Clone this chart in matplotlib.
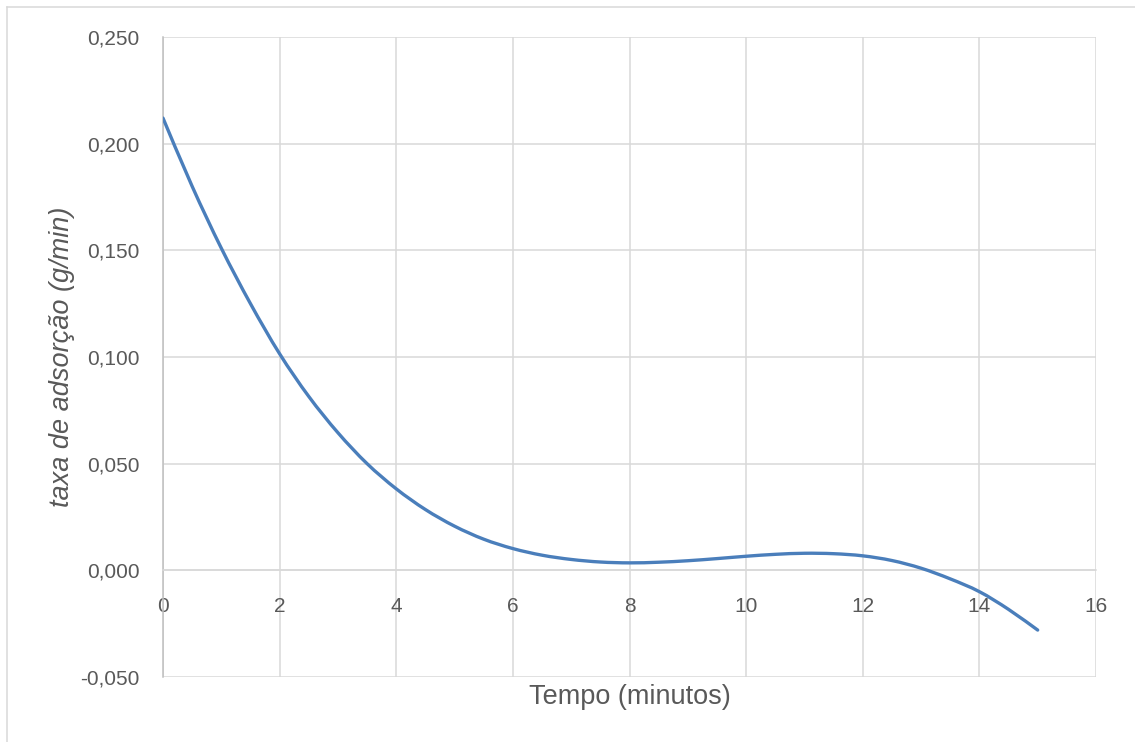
import matplotlib
matplotlib.use("Agg")
import matplotlib.pyplot as plt
from matplotlib.lines import Line2D
from matplotlib.path import Path
from matplotlib.patches import PathPatch

# Data
tempo = [0, 0.5, 1, 1.5, 2, 2.5, 3, 3.5, 4, 4.5, 5, 5.5, 6, 6.5, 7, 7.5,
         8, 8.5, 9, 9.5, 10, 10.5, 11, 11.5, 12, 12.5, 13, 13.5, 14, 14.5, 15]
taxa = [0.212, 0.180, 0.151, 0.125, 0.1015, 0.0815, 0.0645, 0.050, 0.0382, 0.0285,
        0.0207, 0.0146, 0.0102, 0.0071, 0.0051, 0.0039, 0.0035, 0.0038, 0.0045,
        0.0055, 0.0066, 0.0075, 0.0080, 0.0078, 0.0068, 0.0046, 0.0010, -0.0040,
        -0.0100, -0.0183, -0.0280]
x_ticks = [0, 2, 4, 6, 8, 10, 12, 14, 16]
y_ticks = [-0.05, 0.0, 0.05, 0.10, 0.15, 0.20, 0.25]
y_tick_labels = ["-0,050", "0,000", "0,050", "0,100", "0,150", "0,200", "0,250"]

W, H = 1135, 742
fig = plt.figure(figsize=(W / 100, H / 100), dpi=100)
ax = fig.add_axes([163 / W, 1 - 677 / H, (1096 - 163) / W, (677 - 37) / H])

text_color = "#595959"
grid_color = "#d9d9d9"
font = "Liberation Sans"


def smooth_path(xs, ys):
    """Excel-style smoothed line: Catmull-Rom segments as cubic Beziers."""
    verts = [(xs[0], ys[0])]
    codes = [Path.MOVETO]
    n = len(xs)
    for i in range(n - 1):
        x0, y0 = (xs[i - 1], ys[i - 1]) if i > 0 else (xs[i], ys[i])
        x1, y1 = xs[i], ys[i]
        x2, y2 = xs[i + 1], ys[i + 1]
        x3, y3 = (xs[i + 2], ys[i + 2]) if i + 2 < n else (x2, y2)
        c1 = (x1 + (x2 - x0) / 6, y1 + (y2 - y0) / 6)
        c2 = (x2 - (x3 - x1) / 6, y2 - (y3 - y1) / 6)
        verts += [c1, c2, (x2, y2)]
        codes += [Path.CURVE4] * 3
    return Path(verts, codes)


curve = PathPatch(smooth_path(tempo, taxa), facecolor="none", edgecolor="#4a7ebb",
                  lw=2.4, capstyle="round", transform=ax.transData, zorder=3)
ax.add_patch(curve)

ax.set_xlim(0, 16)
ax.set_ylim(-0.05, 0.25)
ax.set_xticks(x_ticks)
ax.set_yticks(y_ticks)
ax.set_yticklabels(y_tick_labels)
ax.grid(True, color=grid_color, lw=1.1, zorder=0)

for s in ["top", "right"]:
    ax.spines[s].set_visible(False)
ax.spines["bottom"].set_position(("data", 0))
ax.spines["bottom"].set_color(grid_color)
ax.spines["bottom"].set_linewidth(1.1)
ax.spines["left"].set_color("#bfbfbf")
ax.spines["left"].set_linewidth(1.1)

ax.tick_params(axis="both", length=0, labelsize=15, labelcolor=text_color)
ax.tick_params(axis="x", pad=19)
ax.tick_params(axis="y", pad=17)
for lab in ax.get_xticklabels() + ax.get_yticklabels():
    lab.set_fontfamily(font)

fig.text(629.5 / W, 1 - 697 / H, "Tempo (minutos)", ha="center", va="center",
         fontsize=19.5, color=text_color, family=font)
fig.text(62 / W, 1 - 357 / H, "taxa de adsorção (g/min)", ha="center", va="center",
         rotation=90, fontsize=19.5, color=text_color, family=font, style="italic")

# outer chart border
fig.add_artist(Line2D([6.5 / W, 6.5 / W], [0, 1 - 6.5 / H], color=grid_color, lw=1.1))
fig.add_artist(Line2D([6.5 / W, 1], [1 - 6.5 / H, 1 - 6.5 / H], color=grid_color, lw=1.1))

fig.savefig("out.png", dpi=100)
